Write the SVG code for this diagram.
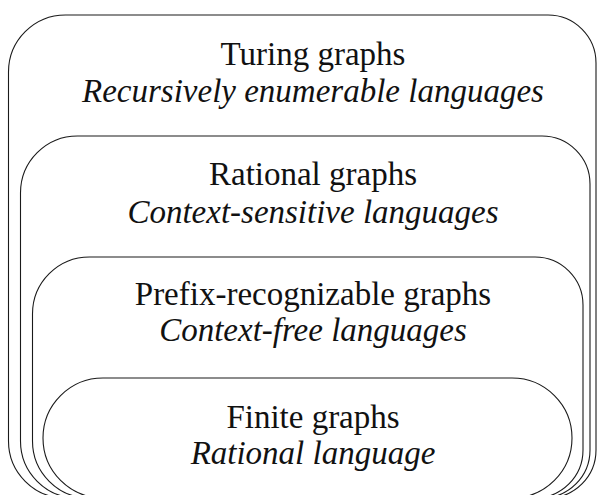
<svg xmlns="http://www.w3.org/2000/svg" width="598" height="495" viewBox="0 0 598 495">
  <style>
    .region { fill: none; stroke: #1a1a1a; stroke-width: 1.1; }
    .title { font-family: "Liberation Serif", "DejaVu Serif", serif; font-size: 33px; fill: #111; text-anchor: middle; }
    .lang { font-family: "Liberation Serif", "DejaVu Serif", serif; font-size: 33px; font-style: italic; fill: #111; text-anchor: middle; }
  </style>
  <rect width="598" height="495" fill="#fff"/>

  <!-- Nested classes of graphs, outermost first; bottoms run past the lower edge -->
  <g id="turing">
    <path class="region" d="M 65.5 15 H 548 A 48 48 0 0 1 596 63 V 450 A 48 48 0 0 1 548 498 H 65.5 A 57 57 0 0 1 8.5 441 V 72 A 57 57 0 0 1 65.5 15 Z"/>
    <text class="title" x="313" y="65">Turing graphs</text>
    <text class="lang" x="313" y="102">Recursively enumerable languages</text>
  </g>

  <g id="rational">
    <path class="region" d="M 77.5 136 H 542 A 48 48 0 0 1 590 184 V 450 A 48 48 0 0 1 542 498 H 77.5 A 57 57 0 0 1 20.5 441 V 193 A 57 57 0 0 1 77.5 136 Z"/>
    <text class="title" x="313" y="185">Rational graphs</text>
    <text class="lang" x="313" y="223">Context-sensitive languages</text>
  </g>

  <g id="prefix-recognizable">
    <path class="region" d="M 89.5 257 H 535 A 48 48 0 0 1 583 305 V 450 A 48 48 0 0 1 535 498 H 89.5 A 57 57 0 0 1 32.5 441 V 314 A 57 57 0 0 1 89.5 257 Z"/>
    <text class="title" x="313" y="305">Prefix-recognizable graphs</text>
    <text class="lang" x="313" y="341">Context-free languages</text>
  </g>

  <g id="finite">
    <path class="region" d="M 103 378 H 512 A 60 60 0 0 1 512 498 H 103 A 60 60 0 0 1 103 378 Z"/>
    <text class="title" x="313" y="428">Finite graphs</text>
    <text class="lang" x="313" y="464">Rational language</text>
  </g>
</svg>
